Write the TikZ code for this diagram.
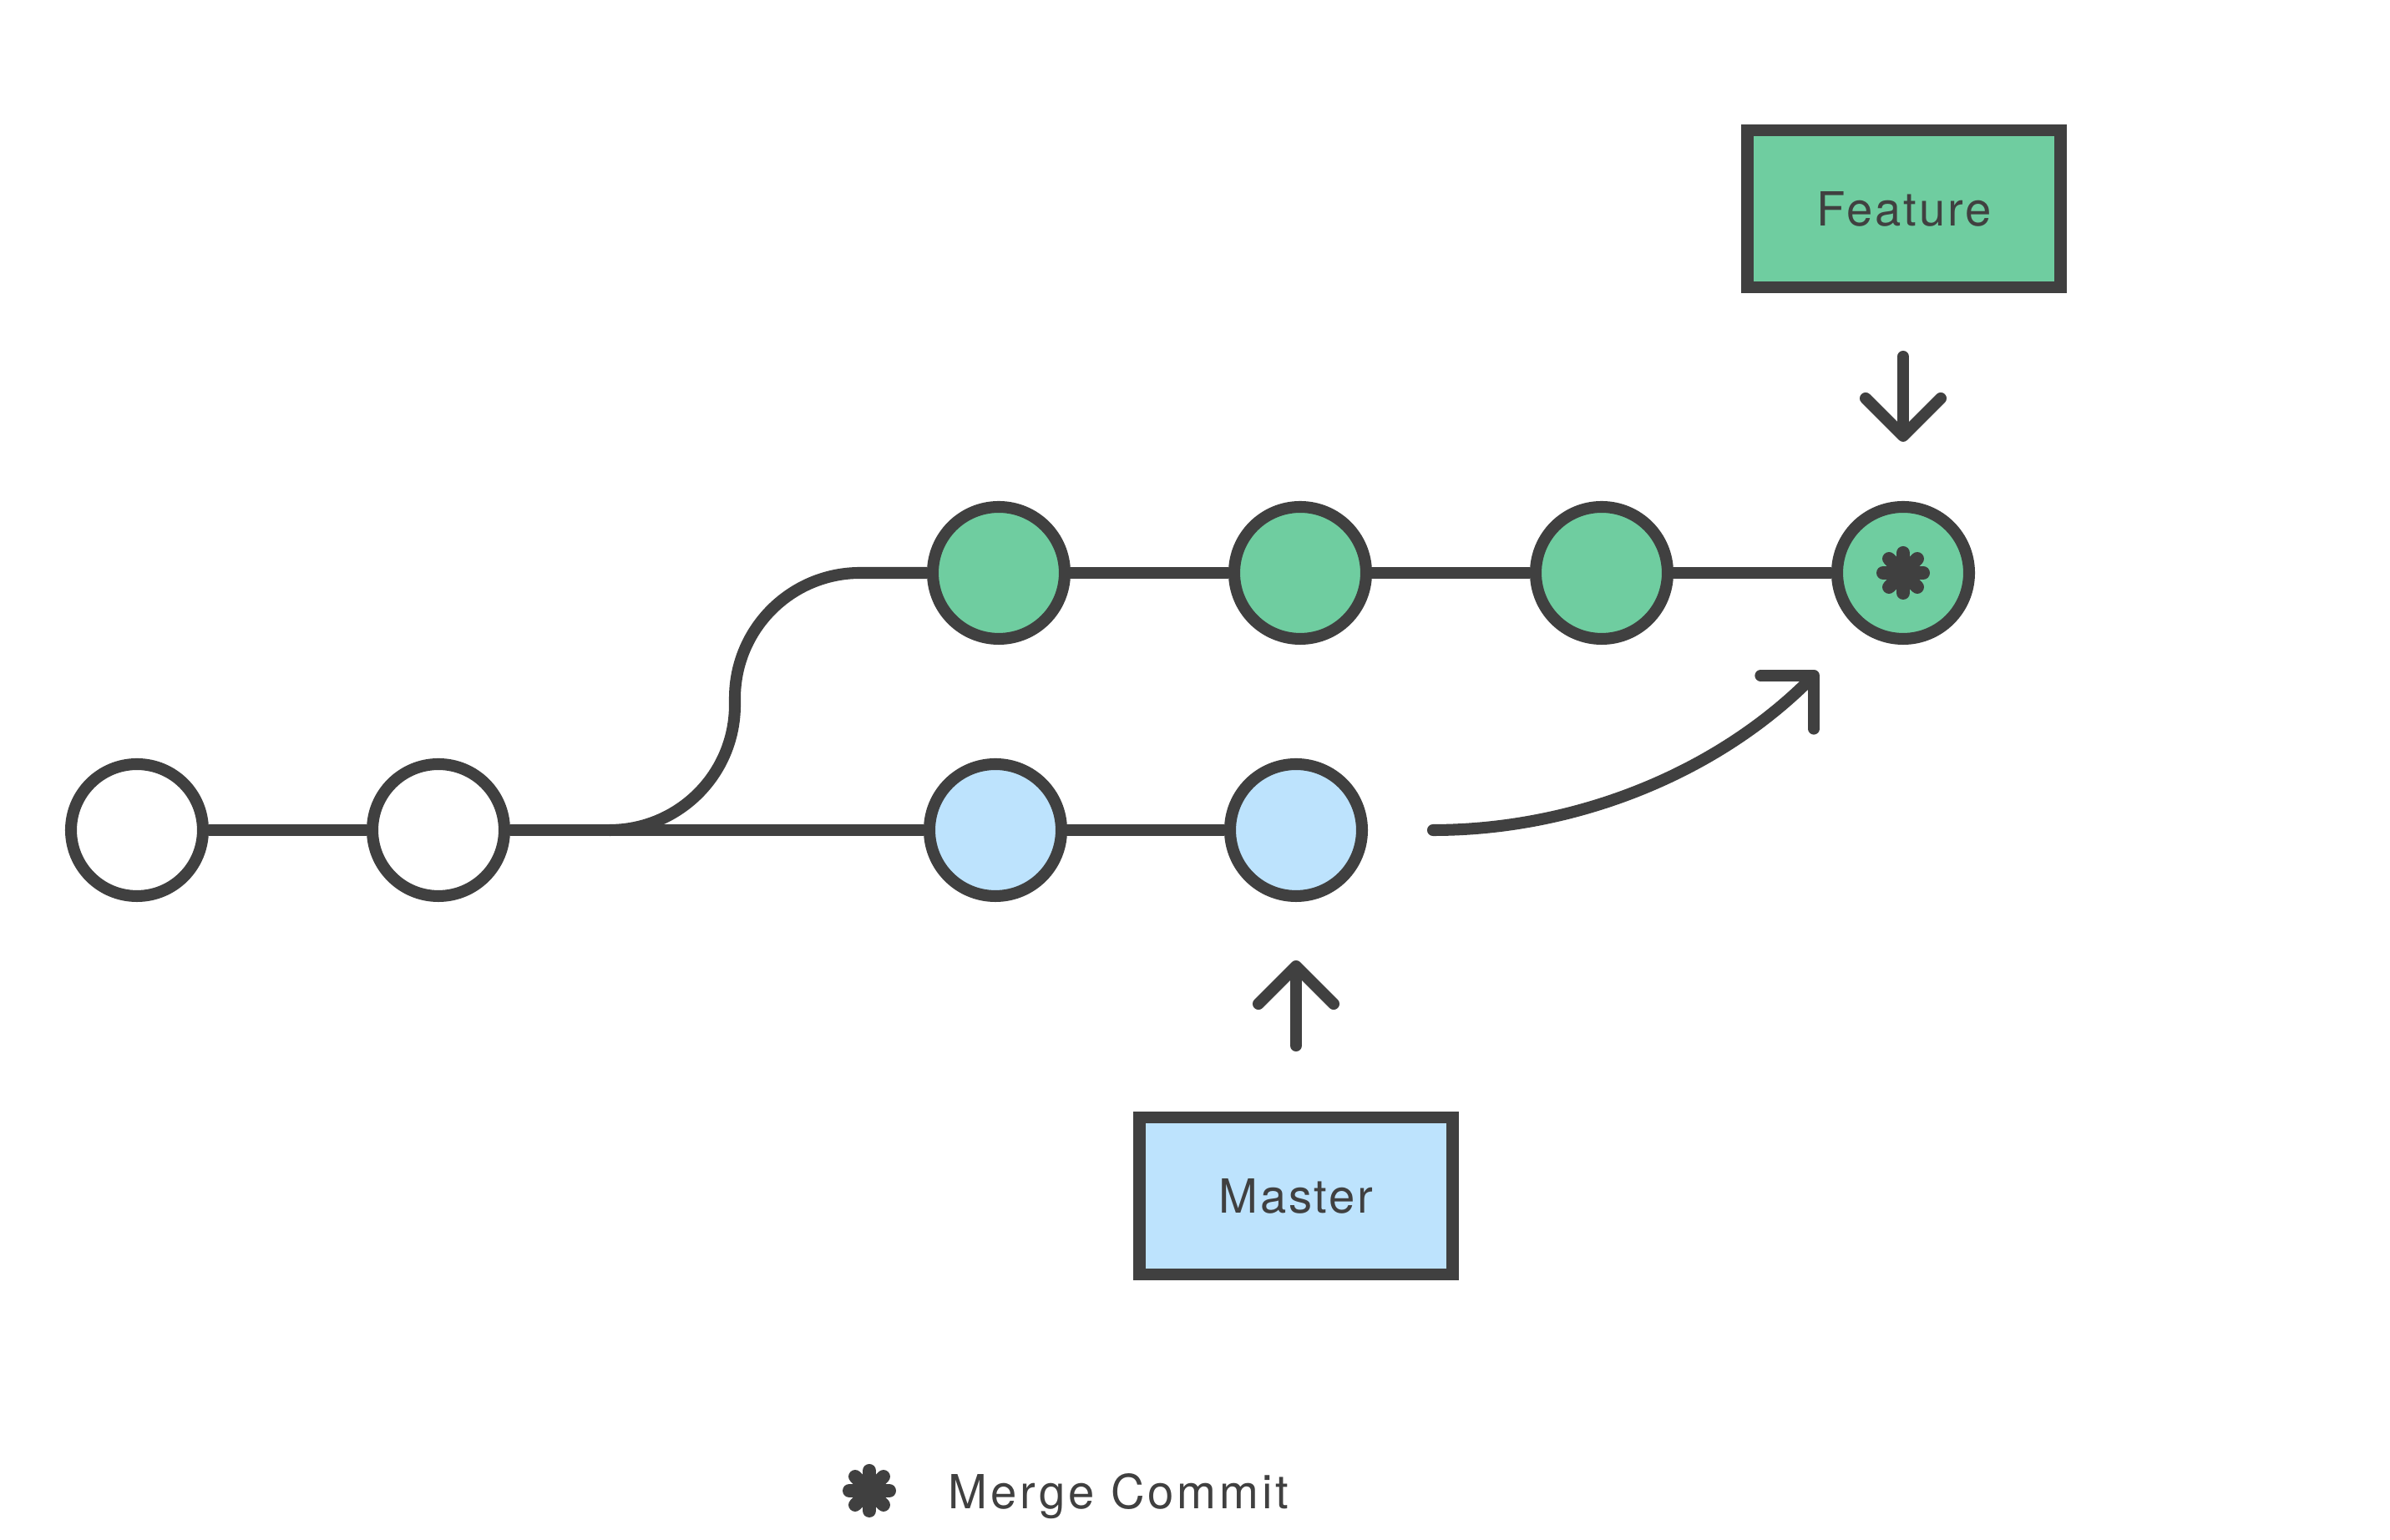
\documentclass[tikz,border=0pt]{standalone}
\usepackage{fontspec}
\setmainfont[LetterSpace=5]{TeX Gyre Heros}
\usetikzlibrary{arrows.meta}

\definecolor{ink}{HTML}{404040}
\definecolor{featuregreen}{HTML}{6FCDA0}
\definecolor{masterblue}{HTML}{BDE3FD}

\newcommand{\mergemark}[1]{%
  \foreach \a in {0,45,90,135}
    \draw[ink, line width=0.16cm, line cap=round]
      ([shift={(\a:0.24)}]#1) -- ([shift={(\a+180:0.24)}]#1);
}

\begin{document}
\begin{tikzpicture}[
    commit/.style={circle, draw=ink, line width=4pt, minimum size=1.58cm, inner sep=0pt},
    branch/.style={rectangle, draw=ink, line width=4pt, minimum width=3.75cm,
      minimum height=1.88cm, font=\fontsize{16}{19}\selectfont, text=ink},
    pointer/.style={draw=ink, line width=4pt, line cap=round,
      -{Straight Barb[length=0.45cm, width=0.9cm, round]}}
  ]
  \useasboundingbox (0,0) rectangle (28.62,18.44);
  \draw
    (1.64,8.50) node[commit, fill=white] (c1){}
    (5.25,8.50) node[commit, fill=white] (c2){}
    (11.92,8.50) node[commit, fill=masterblue] (m1){}
    (15.52,8.50) node[commit, fill=masterblue] (m2){}
    (11.96,11.58) node[commit, fill=featuregreen] (f1){}
    (15.57,11.58) node[commit, fill=featuregreen] (f2){}
    (19.18,11.58) node[commit, fill=featuregreen] (f3){}
    (22.79,11.58) node[commit, fill=featuregreen] (f4){}
    (22.80,15.94) node[branch, fill=featuregreen] (feature){Feature}
    (15.52,4.12) node[branch, fill=masterblue] (master){Master};
  \coordinate (fork) at (7.30,8.50);
  \coordinate (featuretail) at (22.79,14.17);
  \coordinate (featuretip) at (22.79,13.15);
  \coordinate (mastertail) at (15.52,5.92);
  \coordinate (mastertip) at (15.52,6.94);
  \coordinate (mergetail) at (17.16,8.50);
  \coordinate (mergetip) at (21.77,10.40);
  \coordinate (legendmark) at (10.41,0.59);
  \begin{scope}[ink, line width=4pt]
    \draw (c1) to (c2);
    \draw (c2) to (m1);
    \draw (m1) to (m2);
    \draw (f1) to (f2);
    \draw (f2) to (f3);
    \draw (f3) to (f4);
    \draw (fork) arc[start angle=270, end angle=360, radius=1.5]
      -- ++(0,0.08) arc[start angle=180, end angle=90, radius=1.5] -- (f1);
  \end{scope}
  \draw[pointer] (featuretail) -- (featuretip);
  \draw[pointer] (mastertail) -- (mastertip);
  \draw[pointer] (mergetail) to[out=0, in=225, looseness=0.88] (mergetip);
  \mergemark{f4.center}
  \mergemark{legendmark}
  \node[anchor=base west, inner sep=0pt, text=ink, font=\fontsize{16}{19}\selectfont]
    (legend) at (11.35,0.37) {\addfontfeature{LetterSpace=7}Merge Commit};
\end{tikzpicture}
\end{document}
